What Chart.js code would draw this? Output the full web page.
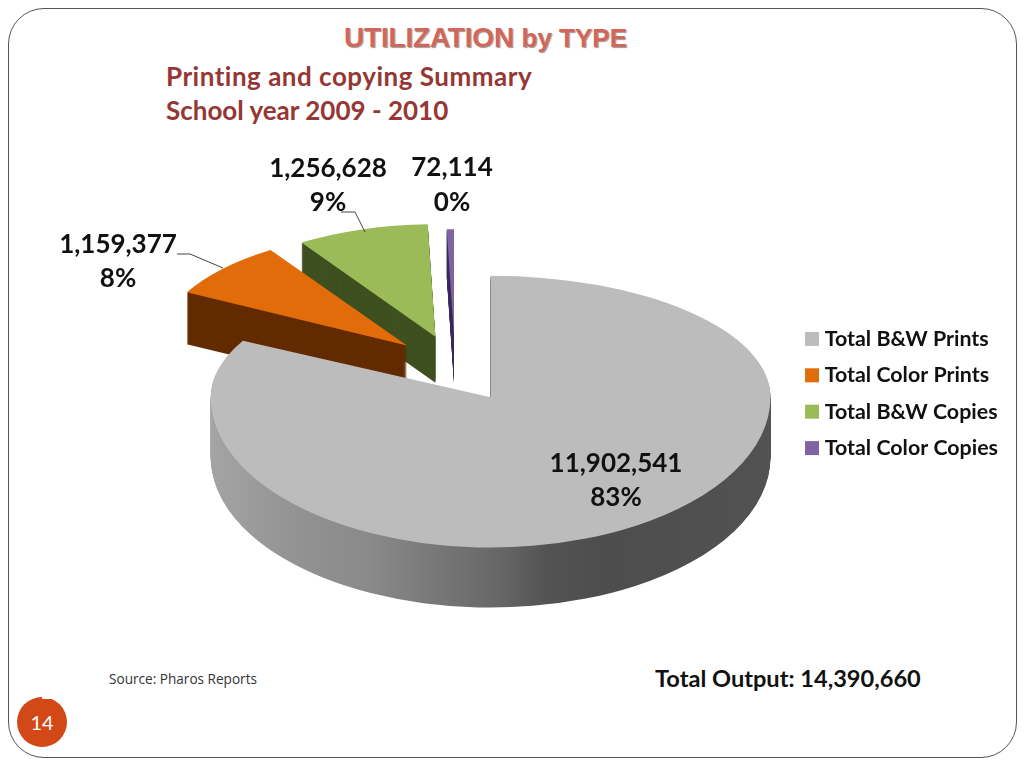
<!DOCTYPE html>
<html lang="en">
<head>
    <meta charset="UTF-8">
    <title>Utilization by Type</title>
    <style>
        html, body { margin: 0; padding: 0; background: #fff; }
        body { width: 1024px; height: 768px; position: relative; overflow: hidden; font-family: Lato, sans-serif; }
        canvas { position: absolute; left: 0; top: 0; }
        .frame { position: absolute; left: 8px; top: 8px; width: 1007px; height: 748px; border: 1px solid #555; border-radius: 36px; }
        .text { position: absolute; white-space: nowrap; }
        .title { left: 344px; top: 22px; font: bold 28px "Liberation Sans", Arial, sans-serif; color: #d2665a; text-shadow: 1px 1px 1px #999; letter-spacing: -0.2px; }
        .title span { font-size: 26px; letter-spacing: 0; }
        .sub { left: 166px; font-weight: bold; font-size: 26px; color: #953735; }
        .source { left: 109px; top: 669px; font-size: 13.6px; color: #333; font-family: "Open Sans", sans-serif; }
        .total { left: 655px; top: 664px; font-weight: bold; font-size: 23.6px; color: #111; }
        .badge { position: absolute; left: 17px; top: 697px; width: 50px; height: 50px; border-radius: 50%; background: #d34817; color: #fff; font: 20px/50px Lato, sans-serif; text-align: center; }
        .notch { position: absolute; left: 42px; top: 696px; width: 13px; height: 3px; background: #fff; }
    </style>
    <script src="https://cdn.jsdelivr.net/npm/chart.js"></script>
</head>
<body>
    <div class="frame"></div>
    <div class="text title">UTILIZATION <span>by TYPE</span></div>
    <div class="text sub" style="top:60px; letter-spacing:0.5px">Printing and copying Summary</div>
    <div class="text sub" style="top:94px">School year 2009 - 2010</div>
    <div class="text source">Source: Pharos Reports</div>
    <div class="text total">Total Output: 14,390,660</div>
    <div class="badge">14</div>
    <div class="notch"></div>
    <canvas id="pie" width="1024" height="768"></canvas>

    <script>
        const categories = ['Total B&W Prints', 'Total Color Prints', 'Total B&W Copies', 'Total Color Copies'];
        const outputValues = [11902541, 1159377, 1256628, 72114];
        const percentLabels = ['83%', '8%', '9%', '0%'];
        const sliceColors = ['#bcbcbc', '#e36c0a', '#9bbb59', '#8064a2'];
        const wallColors = ['#8c8c8c', '#632b00', '#3f5020', '#3b2c5a'];

        // fake 3D look: every slice is squashed, pulled out and extruded
        // the far half of a slice is squashed harder than the near half, that gives the perspective
        const pieCenter = { x: 455, y: 367 };
        const explode = 65;
        const squashFar = [0.434, 0.46, 0.46, 0.46];
        const squashNear = [0.537, 0.46, 0.46, 0.46];
        const sizes = [0.996, 0.885, 0.87, 0.82];
        const depths = [60, 52, 46, 48];
        const shiftX = [2, 0, 0, 0];
        const shiftY = [3, 0, 0, 0];

        // where the value labels sit, [x, y of first line, y of second line]
        const labelSpots = [[616, 464, 498], [118, 245, 279], [328, 169, 203], [452, 168, 203]];
        const leaders = [
            null,
            [[177, 254], [190, 254], [223, 268]],
            [[341, 212], [355, 212], [365, 232]],
            null
        ];

        function drawSlice(ctx, arc, i, depth) {
            const mid = (arc.startAngle + arc.endAngle) / 2;
            const px = pieCenter.x + Math.cos(mid) * explode + shiftX[i];
            const py = pieCenter.y + Math.sin(mid) * explode * 0.49 + shiftY[i] + depth;
            // the far part is painted one pixel past the seam so no hairline shows
            [[squashNear[i], 0, 2000], [squashFar[i], -2000, 2001]].forEach(([k, top, h]) => {
                ctx.save();
                ctx.translate(px, py);
                ctx.beginPath();
                ctx.rect(-2000, top, 4000, h);
                ctx.clip();
                ctx.scale(sizes[i], sizes[i] * k);
                ctx.translate(-arc.x, -arc.y);
                arc.draw(ctx);
                ctx.restore();
            });
        }

        function flatOptions(fill) {
            return { backgroundColor: fill, borderColor: fill, borderWidth: 0, offset: 0, spacing: 0,
                borderAlign: 'center', circular: true, borderRadius: 0 };
        }

        const pie3d = {
            id: 'pie3d',
            beforeDatasetsDraw(chart) {
                const ctx = chart.ctx;
                const arcs = chart.getDatasetMeta(0).data;
                // back slices first, the big one has to cover their walls
                for (let i = arcs.length - 1; i >= 0; i--) {
                    const arc = arcs[i];
                    const saved = arc.options;
                    let wall = wallColors[i];
                    if (i === 0) {
                        wall = ctx.createLinearGradient(arc.x - arc.outerRadius, 0, arc.x + arc.outerRadius, 0);
                        wall.addColorStop(0, '#a4a4a4');
                        wall.addColorStop(0.16, '#929292');
                        wall.addColorStop(0.28, '#8a8a8a');
                        wall.addColorStop(0.4, '#787878');
                        wall.addColorStop(0.52, '#666666');
                        wall.addColorStop(0.6, '#535353');
                        wall.addColorStop(0.7, '#4d4d4d');
                        wall.addColorStop(1, '#525252');
                    }
                    arc.options = flatOptions(wall);
                    for (let d = depths[i]; d > 0; d--) {
                        drawSlice(ctx, arc, i, d);
                    }
                    arc.options = flatOptions(sliceColors[i]);
                    drawSlice(ctx, arc, i, 0);
                    arc.options = saved;
                }
                return false;
            },
            afterDraw(chart) {
                const ctx = chart.ctx;
                ctx.save();
                ctx.strokeStyle = '#444';
                ctx.lineWidth = 1;
                leaders.forEach(line => {
                    if (!line) return;
                    ctx.beginPath();
                    line.forEach((p, n) => n ? ctx.lineTo(p[0], p[1]) : ctx.moveTo(p[0], p[1]));
                    ctx.stroke();
                });
                ctx.fillStyle = '#111';
                ctx.font = 'bold 26px Lato, sans-serif';
                ctx.textAlign = 'center';
                ctx.textBaseline = 'middle';
                outputValues.forEach((v, i) => {
                    const s = labelSpots[i];
                    ctx.fillText(v.toLocaleString('en-US'), s[0], s[1]);
                    ctx.fillText(percentLabels[i], s[0], s[2]);
                });
                ctx.restore();
            }
        };

        new Chart(document.getElementById('pie').getContext('2d'), {
            type: 'pie',
            data: {
                labels: categories,
                datasets: [{
                    data: outputValues,
                    backgroundColor: sliceColors,
                    borderWidth: 0
                }]
            },
            options: {
                responsive: false,
                animation: false,
                radius: 281,
                layout: { padding: { top: 19, right: 16 } },
                plugins: {
                    tooltip: { enabled: false },
                    legend: {
                        position: 'right',
                        labels: {
                            // narrow point box keeps the swatch close to its text
                            usePointStyle: true,
                            pointStyle: 'rect',
                            boxWidth: 4,
                            boxHeight: 14,
                            padding: 15,
                            color: '#111',
                            font: { family: 'Lato, sans-serif', size: 21.4, weight: 'bold' }
                        }
                    }
                }
            },
            plugins: [pie3d]
        });
    </script>
</body>
</html>
